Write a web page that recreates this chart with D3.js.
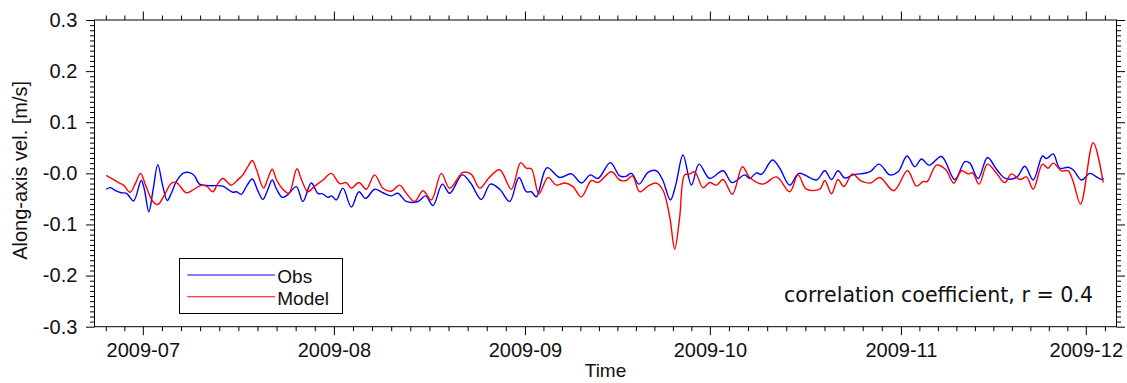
<!DOCTYPE html>
<html>
<head>
<meta charset="utf-8">
<script src="https://cdn.jsdelivr.net/npm/d3@7"></script>
<style>
	body { margin: 0; background: #fff; }
	svg { display: block; font-family: "Liberation Sans", Arial, Helvetica, sans-serif; }
</style>
</head>
<body>
<svg id="chart"></svg>
<script>
// time in days since 2009-06-01 (UTC), velocity in m/s
const obsDay = [
	24.06,24.76,25.57,26.49,27.35,28.49,29.74,30.28,30.97,31.66,
	32.43,33.2,33.96,34.66,35.42,36.65,37.74,38.39,39.2,40.83,
	42.98,43.75,44.61,45.21,45.97,46.83,47.76,48.62,49.48,50.24,
	51.0,51.7,52.63,53.49,54.9,55.97,57.33,58.4,59.17,60.03,
	60.63,61.39,62.46,63.83,65.06,66.15,67.61,68.95,70.32,71.39,
	72.75,74.64,75.88,77.07,78.6,79.78,81.84,83.19,84.93,86.39,
	87.9,89.52,91.03,92.23,93.04,93.85,95.57,97.63,99.53,101.16,
	102.62,103.85,105.86,107.37,108.35,109.27,110.51,111.97,113.33,114.35,
	115.6,116.46,117.65,119.01,120.24,121.98,124.14,125.6,127.66,128.47,
	129.56,130.37,132.16,133.34,134.97,136.47,139.3,140.65,141.73,142.8,
	143.89,145.24,147.95,149.46,151.2,152.54,154.0,155.25,156.34,157.58,
	159.59,161.75,163.37,164.18,165.53,167.05,168.51,169.98,171.76,173.11,
	174.46,175.98,176.63,177.7,178.79,180.14,180.95,182.31,183.66,184.75,
	185.56,185.93
];
const obsVel = [
	-0.031,-0.028,-0.034,-0.038,-0.039,-0.054,-0.014,-0.033,-0.075,-0.033,
	0.017,-0.023,-0.053,-0.038,-0.016,0.001,0.001,-0.005,-0.021,-0.024,
	-0.025,-0.031,-0.037,-0.036,-0.041,-0.025,-0.011,-0.033,-0.051,-0.033,
	-0.013,-0.031,-0.047,-0.042,-0.026,-0.055,-0.019,-0.039,-0.040,-0.047,
	-0.044,-0.052,-0.029,-0.066,-0.036,-0.049,-0.031,-0.038,-0.044,-0.039,
	-0.055,-0.055,-0.044,-0.063,-0.021,-0.039,-0.003,-0.019,-0.051,-0.021,
	-0.031,-0.055,-0.008,-0.036,-0.036,-0.046,0.011,-0.008,-0.001,-0.019,
	-0.003,-0.010,0.021,-0.005,-0.006,0.000,-0.021,0.002,0.005,-0.013,
	-0.052,-0.023,0.036,-0.023,0.018,-0.010,0.005,-0.018,-0.003,-0.010,
	0.001,-0.002,0.026,0.010,-0.023,0.000,-0.013,0.005,-0.012,0.005,
	-0.009,-0.003,0.003,0.018,-0.003,0.003,0.034,0.013,0.028,0.016,
	0.033,-0.012,0.023,0.020,-0.010,0.031,0.008,-0.010,-0.008,0.014,
	-0.013,0.034,0.029,0.038,0.010,0.012,0.007,-0.013,0.000,-0.007,
	-0.012,-0.010
];
const modelDay = [
	24.06,25.08,26.22,26.87,27.92,28.82,29.63,30.44,31.57,32.43,
	33.52,34.66,35.47,37.04,38.07,39.37,40.34,41.36,42.12,42.98,
	44.35,45.37,46.23,46.99,47.76,48.45,49.59,50.32,51.0,51.7,
	52.72,53.7,55.0,55.76,56.78,57.87,59.22,60.58,61.93,63.01,
	63.83,65.06,66.26,67.61,68.95,70.32,71.66,72.75,74.1,75.45,
	76.81,78.43,79.78,81.94,83.3,84.65,86.27,87.9,89.79,91.3,
	92.23,93.04,94.27,95.74,97.1,98.45,99.79,101.16,102.78,103.85,
	106.03,107.37,108.46,109.43,110.62,111.97,113.33,114.4,115.49,116.3,
	117.11,117.92,118.73,119.55,120.89,121.98,123.07,124.14,125.66,127.29,
	128.47,130.63,132.81,134.97,136.31,137.68,139.83,140.65,141.73,142.8,
	143.73,145.14,146.44,148.06,149.57,151.84,154.07,155.53,156.6,157.25,
	158.78,160.29,161.58,162.84,163.91,164.62,165.69,167.05,168.51,169.86,
	170.95,172.3,173.38,174.46,175.98,176.89,177.7,179.06,180.14,180.95,
	182.15,184.19,185.82
];
const modelVel = [
	-0.004,-0.011,-0.019,-0.023,-0.037,-0.019,0.000,-0.023,-0.054,-0.061,
	-0.042,-0.019,-0.018,-0.038,-0.033,-0.024,-0.025,-0.036,-0.021,-0.010,
	-0.023,-0.013,-0.003,0.012,0.025,0.007,-0.029,-0.009,0.008,-0.013,
	-0.031,-0.039,0.009,-0.013,-0.036,-0.025,-0.013,0.000,-0.020,-0.018,
	-0.029,-0.018,-0.031,-0.003,-0.029,-0.035,-0.023,-0.039,-0.055,-0.034,
	-0.052,0.000,-0.029,0.002,-0.002,-0.029,-0.007,0.007,-0.031,0.021,
	0.010,0.009,-0.040,-0.008,-0.023,-0.019,-0.026,-0.046,-0.014,-0.018,
	0.003,-0.013,-0.014,-0.005,-0.036,-0.025,-0.019,-0.033,-0.085,-0.148,
	-0.085,-0.003,-0.001,0.003,-0.028,-0.018,-0.023,-0.012,-0.041,0.013,
	-0.008,-0.021,-0.007,-0.036,-0.003,-0.031,-0.031,-0.014,-0.040,-0.012,
	-0.026,-0.001,-0.014,-0.019,-0.008,-0.034,0.005,-0.025,-0.016,-0.016,
	0.016,0.007,-0.019,0.005,-0.001,0.001,-0.021,0.018,0.000,-0.018,
	-0.001,-0.012,-0.007,-0.031,0.018,0.010,0.020,0.005,0.005,-0.016,
	-0.060,0.060,-0.018
];

const timeRange = [22.16, 187.98]; // days since 2009-06-01
const yTicks = [-0.3, -0.2, -0.1, 0, 0.1, 0.2, 0.3];
const yTickLabels = ["-0.3", "-0.2", "-0.1", "-0.0", "0.1", "0.2", "0.3"];
const seriesNames = ["Obs", "Model"];
const corrText = "correlation coefficient, r = 0.4";

const width = 1127;
const height = 383;
const margin = { left: 94.5, right: 10.5, top: 20, bottom: 56.3 };
const majorLen = 8.5;
const minorLen = 4.5;

const base = Date.UTC(2009, 5, 1);
const toDate = d => new Date(base + d * 864e5);

const svg = d3.select("#chart")
              .attr("width", width)
              .attr("height", height);

const xScale = d3.scaleUtc(timeRange.map(toDate), [margin.left, width - margin.right]);
const yScale = d3.scaleLinear([-0.3, 0.3], [height - margin.bottom, margin.top]);

// month ticks + 10 subdivisions of each month
const months = d3.utcMonth.range(d3.utcMonth.floor(xScale.domain()[0]), d3.utcMonth.offset(xScale.domain()[1], 1));
const majorX = months.filter(m => m >= xScale.domain()[0] && m <= xScale.domain()[1]);
const minorX = [];
for (const m of months) {
	const next = d3.utcMonth.offset(m, 1);
	for (let k = 1; k < 10; k++) {
		const t = new Date(+m + (next - m) * k / 10);
		if (t >= xScale.domain()[0] && t <= xScale.domain()[1]) minorX.push(t);
	}
}
const minorY = d3.range(-30, 31).map(i => i / 100).filter(v => Math.round(v * 100) % 10 !== 0);

const y0 = height - margin.bottom;
const x1 = width - margin.right;

function styleAxis(g) {
	g.select(".domain").remove();
	g.selectAll(".tick line").attr("stroke", "#000").attr("stroke-width", 1);
	g.selectAll(".tick text").attr("fill", "#111").attr("font-size", 20);
}

// bottom
svg.append("g")
   .attr("transform", `translate(0, ${y0})`)
   .call(d3.axisBottom(xScale).tickValues(majorX).tickFormat(d3.utcFormat("%Y-%m"))
           .tickSize(majorLen).tickPadding(7.3))
   .call(styleAxis);
svg.append("g")
   .attr("transform", `translate(0, ${y0})`)
   .call(d3.axisBottom(xScale).tickValues(minorX).tickFormat("").tickSize(minorLen))
   .call(styleAxis);
// top (mirrored)
svg.append("g")
   .attr("transform", `translate(0, ${margin.top})`)
   .call(d3.axisTop(xScale).tickValues(majorX).tickFormat("").tickSize(majorLen))
   .call(styleAxis);
svg.append("g")
   .attr("transform", `translate(0, ${margin.top})`)
   .call(d3.axisTop(xScale).tickValues(minorX).tickFormat("").tickSize(minorLen))
   .call(styleAxis);
// left
svg.append("g")
   .attr("transform", `translate(${margin.left}, 0)`)
   .call(d3.axisLeft(yScale).tickValues(yTicks).tickFormat((d, i) => yTickLabels[i])
           .tickSize(majorLen).tickPadding(8.7))
   .call(styleAxis);
svg.append("g")
   .attr("transform", `translate(${margin.left}, 0)`)
   .call(d3.axisLeft(yScale).tickValues(minorY).tickFormat("").tickSize(minorLen))
   .call(styleAxis);
// right (mirrored)
svg.append("g")
   .attr("transform", `translate(${x1}, 0)`)
   .call(d3.axisRight(yScale).tickValues(yTicks).tickFormat("").tickSize(majorLen))
   .call(styleAxis);
svg.append("g")
   .attr("transform", `translate(${x1}, 0)`)
   .call(d3.axisRight(yScale).tickValues(minorY).tickFormat("").tickSize(minorLen))
   .call(styleAxis);

// series
const line = d3.line()
               .x(d => xScale(toDate(d[0])))
               .y(d => yScale(d[1]))
               .curve(d3.curveCatmullRom.alpha(0.5));

svg.append("path")
   .datum(d3.zip(obsDay, obsVel))
   .attr("fill", "none")
   .attr("stroke", "#0000ff")
   .attr("stroke-width", 1.4)
   .attr("d", line);
svg.append("path")
   .datum(d3.zip(modelDay, modelVel))
   .attr("fill", "none")
   .attr("stroke", "#ff0000")
   .attr("stroke-width", 1.4)
   .attr("d", line);

// frame
svg.append("rect")
   .attr("x", margin.left)
   .attr("y", margin.top)
   .attr("width", x1 - margin.left)
   .attr("height", y0 - margin.top)
   .attr("fill", "none")
   .attr("stroke", "#000")
   .attr("stroke-width", 1);

// axis titles
svg.append("text")
   .attr("transform", `translate(27, ${(margin.top + y0) / 2 - 3}) rotate(-90)`)
   .attr("text-anchor", "middle")
   .attr("font-size", 20)
   .attr("fill", "#111")
   .text("Along-axis vel. [m/s]");
svg.append("text")
   .attr("x", (margin.left + x1) / 2)
   .attr("y", 377.3)
   .attr("text-anchor", "middle")
   .attr("font-size", 19)
   .attr("fill", "#111")
   .text("Time");

// legend
const legend = svg.append("g");
legend.append("rect")
      .attr("x", 179.5).attr("y", 258.5)
      .attr("width", 163).attr("height", 55)
      .attr("fill", "#fff").attr("stroke", "#000").attr("stroke-width", 1);
const colors = ["#0000ff", "#ff0000"];
seriesNames.forEach((name, i) => {
	const ly = 275 + i * 21.7;
	legend.append("line")
	      .attr("x1", 187.3).attr("x2", 275)
	      .attr("y1", ly).attr("y2", ly)
	      .attr("stroke", colors[i]).attr("stroke-width", 1.1);
	legend.append("text")
	      .attr("x", 277.3).attr("y", ly + 8.3)
	      .attr("font-size", 19).attr("fill", "#111")
	      .text(name);
});

svg.append("text")
   .attr("x", 1093)
   .attr("y", 301.7)
   .attr("text-anchor", "end")
   .attr("font-family", "'DejaVu Sans', sans-serif")
   .attr("font-size", 20.6)
   .attr("fill", "#111")
   .text(corrText);
</script>
</body>
</html>
